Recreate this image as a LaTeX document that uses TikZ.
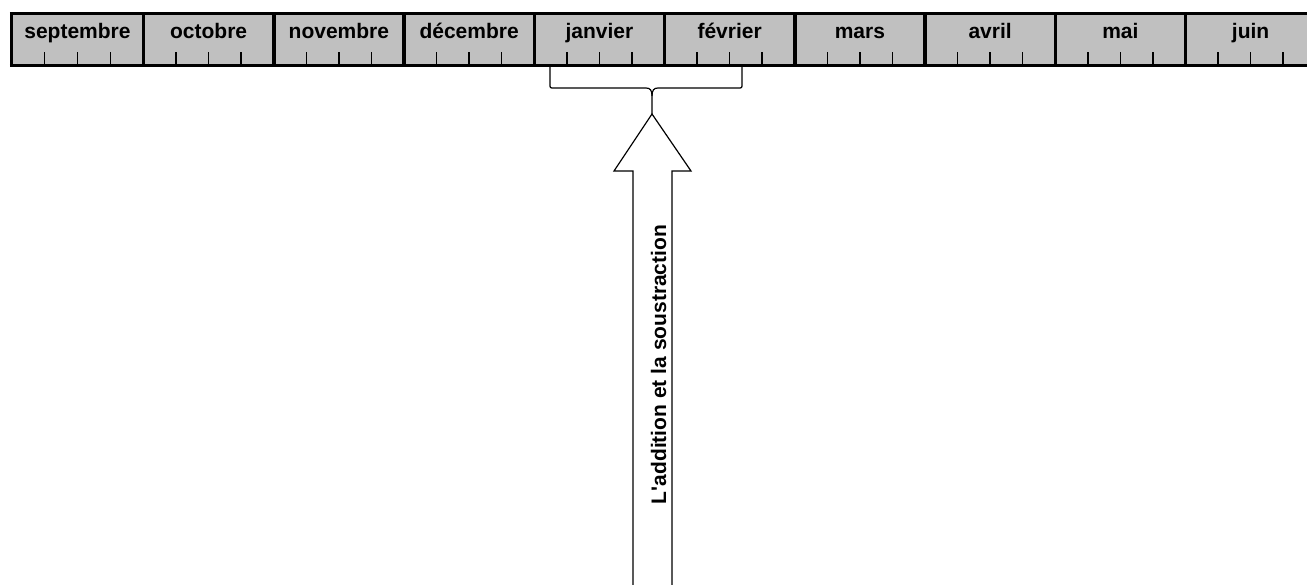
\documentclass[tikz,border=0pt]{standalone}
\usepackage{fontspec}
\setmainfont{Liberation Sans}[BoldFont={Liberation Sans Bold}]
\begin{document}
\begin{tikzpicture}[x=0.5pt,y=-0.5pt,
  monthlabel/.style={anchor=base,inner sep=0pt,font=\bfseries\fontsize{10.5}{12}\selectfont},
  barborder/.style={line width=1.75pt},
  tickline/.style={line width=0.75pt},
  outline/.style={line width=0.6pt,line join=miter}]
\useasboundingbox (0,0) rectangle (1307,584);
\clip (0,0) rectangle (1307,584);
% bar fill
\fill[fill={rgb,255:red,192;green,192;blue,192}] (11.5,13.5) rectangle (1330,65.5);
% ticks and labels
\foreach \m [count=\i from 0] in {septembre,octobre,novembre,d\'ecembre,janvier,f\'evrier,mars,avril,mai,juin}{
  \pgfmathsetmacro{\xl}{\i==0 ? 11.5 : 143.5+130.25*(\i-1)}
  \pgfmathsetmacro{\xr}{143.5+130.25*\i}
  \pgfmathsetmacro{\w}{(\xr-\xl)/4}
  \node[monthlabel] (m\i) at ({(\xl+\xr)/2},38) {\m};
  \foreach \k in {1,2,3}{
    \draw[tickline] ({\xl+\k*\w},52) -- ({\xl+\k*\w},65.5);
  }
  \draw[barborder] (\xr,13.5) -- (\xr,65.5);
}
\draw[barborder] (11.5,13.5) -- (11.5,65.5);
\draw[barborder] (9.75,13.5) -- (1330,13.5);
\draw[barborder] (9.75,65.5) -- (1330,65.5);
% brace
\coordinate (bl) at (550,67);
\coordinate (br) at (742,67);
\coordinate (btip) at (652,115);
\draw[outline] (bl) -- (550,84) .. controls (550,88) .. (554,88) -- (646,88)
  .. controls (650,88) and (652,90) .. (652,96) -- (btip);
\draw[outline] (br) -- (742,84) .. controls (742,88) .. (738,88) -- (658,88)
  .. controls (654,88) and (652,90) .. (652,96);
% block arrow
\draw[outline,fill=white] (652,114) -- (691,171) -- (672,171) -- (672,620) -- (633,620) -- (633,171) -- (614,171) -- cycle;
\node[monthlabel,rotate=90] (lbl) at (666,364.5) {L\textquotesingle addition et la soustraction};
\end{tikzpicture}
\end{document}
